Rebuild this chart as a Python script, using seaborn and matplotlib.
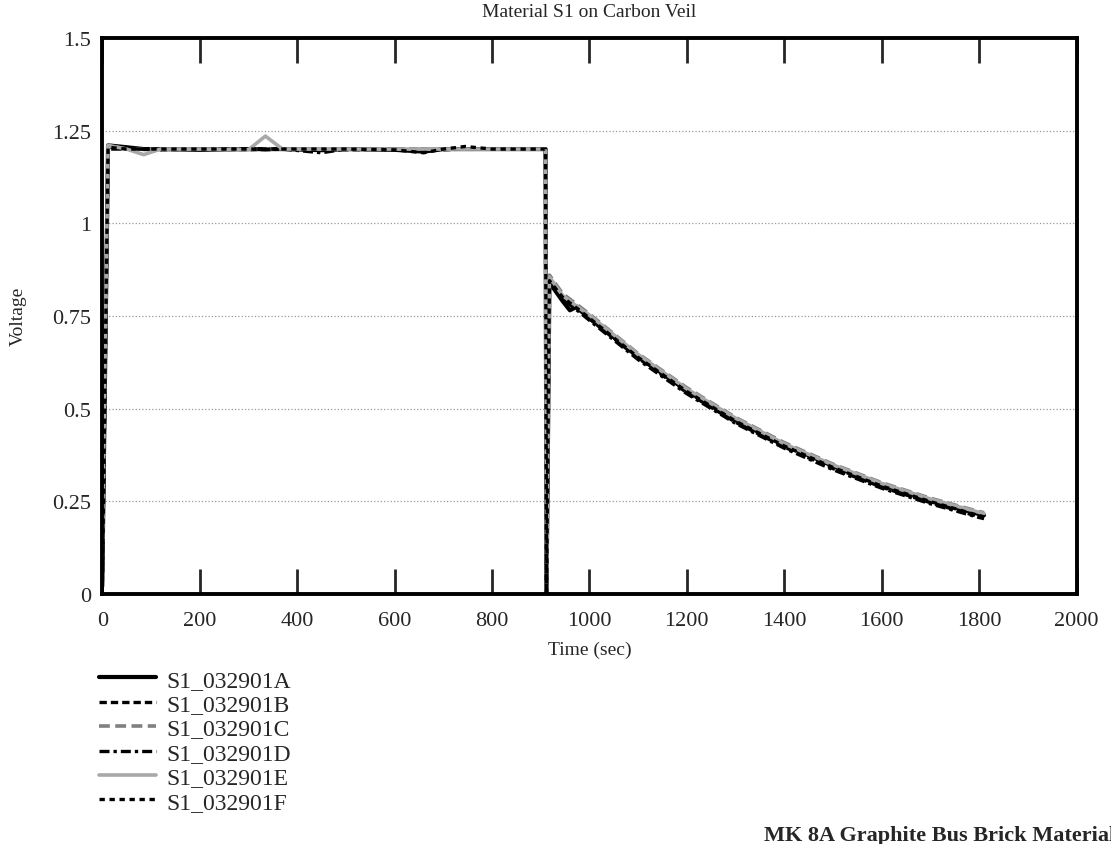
import matplotlib
matplotlib.use("Agg")
import matplotlib.pyplot as plt
import seaborn as sns
import pandas as pd

sns.set_style("white")
plt.rcParams["font.family"] = ["Liberation Serif", "DejaVu Serif"]

# time base (sec) shared by all runs
time_s = [0, 12, 50, 85, 120, 200, 300, 335, 370, 450, 500, 600, 660, 700, 745, 800,
          880, 910, 912, 918, 945, 960, 975, 1000, 1100, 1200, 1300, 1400, 1500,
          1600, 1700, 1800, 1810]

s1_a = [0.02, 1.21, 1.205, 1.20, 1.20, 1.198, 1.20, 1.20, 1.20, 1.197, 1.20, 1.198,
        1.193, 1.20, 1.20, 1.20, 1.20, 1.20, 0.0, 0.84, 0.79, 0.765, 0.775, 0.745,
        0.640, 0.548, 0.470, 0.402, 0.345, 0.295, 0.252, 0.215, 0.212]
s1_b = [0.00, 1.205, 1.20, 1.20, 1.198, 1.20, 1.198, 1.20, 1.20, 1.20, 1.198, 1.20,
        1.20, 1.198, 1.20, 1.20, 1.20, 1.20, 0.0, 0.85, 0.80, 0.785, 0.77, 0.742,
        0.636, 0.543, 0.463, 0.396, 0.338, 0.288, 0.246, 0.208, 0.205]
s1_c = [0.05, 1.21, 1.20, 1.20, 1.20, 1.20, 1.20, 1.20, 1.20, 1.20, 1.20, 1.20,
        1.20, 1.20, 1.20, 1.20, 1.20, 1.20, 0.0, 0.86, 0.81, 0.795, 0.78, 0.755,
        0.648, 0.556, 0.476, 0.408, 0.350, 0.300, 0.258, 0.222, 0.219]
s1_d = [0.00, 1.20, 1.20, 1.20, 1.20, 1.20, 1.20, 1.198, 1.20, 1.19, 1.20, 1.20,
        1.195, 1.20, 1.20, 1.20, 1.20, 1.20, 0.0, 0.84, 0.795, 0.78, 0.765, 0.738,
        0.632, 0.540, 0.460, 0.393, 0.335, 0.285, 0.243, 0.206, 0.203]
s1_e = [0.10, 1.21, 1.20, 1.185, 1.20, 1.20, 1.198, 1.235, 1.20, 1.20, 1.20, 1.20,
        1.20, 1.20, 1.20, 1.20, 1.20, 1.20, 0.0, 0.855, 0.805, 0.79, 0.775, 0.752,
        0.646, 0.553, 0.474, 0.405, 0.348, 0.298, 0.256, 0.220, 0.217]
s1_f = [0.00, 1.205, 1.20, 1.20, 1.20, 1.20, 1.20, 1.20, 1.20, 1.20, 1.20, 1.198,
        1.19, 1.20, 1.207, 1.20, 1.20, 1.20, 0.0, 0.845, 0.80, 0.785, 0.77, 0.744,
        0.638, 0.546, 0.466, 0.399, 0.341, 0.291, 0.249, 0.211, 0.208]

run_names = ["S1_032901A", "S1_032901B", "S1_032901C", "S1_032901D", "S1_032901E", "S1_032901F"]
run_values = [s1_a, s1_b, s1_c, s1_d, s1_e, s1_f]

y_ticks = [0, 0.25, 0.5, 0.75, 1, 1.25, 1.5]
y_tick_labels = ["0", "0.25", "0.5", "0.75", "1", "1.25", "1.5"]
x_ticks = [0, 200, 400, 600, 800, 1000, 1200, 1400, 1600, 1800, 2000]

styles = [
    dict(color="black", linestyle="-", lw=3.0),
    dict(color="black", linestyle=(0, (2.2, 1.2)), lw=2.4),
    dict(color="#808080", linestyle=(0, (3.0, 1.5)), lw=2.6),
    dict(color="black", linestyle=(0, (3.0, 1.2, 1.0, 1.2)), lw=2.4),
    dict(color="#a8a8a8", linestyle="-", lw=2.6),
    dict(color="black", linestyle=(0, (1.6, 1.4)), lw=2.4),
]

fig = plt.figure(figsize=(11.11, 8.45), dpi=100)
ax = fig.add_axes([0.092, 0.296, 0.877, 0.658])

for name, vals, st in zip(run_names, run_values, styles):
    df = pd.DataFrame({"t": time_s, "v": vals})
    sns.lineplot(data=df, x="t", y="v", ax=ax, label=name, sort=False,
                 estimator=None, **st)

ax.set_xlim(0, 2000)
ax.set_ylim(0, 1.5)
ax.set_xticks(x_ticks)
ax.set_yticks(y_ticks)
ax.set_yticklabels(y_tick_labels)
ax.yaxis.grid(True, linestyle=":", color="#999999", lw=0.9)
ax.xaxis.grid(False)

ax.tick_params(axis="x", direction="in", length=18, width=2.0, top=True, bottom=True,
               labelsize=16, pad=12)
ax.tick_params(axis="y", length=0, labelsize=16, pad=8)
for sp in ax.spines.values():
    sp.set_color("black")
    sp.set_linewidth(2.8)

ax.set_title("Material S1 on Carbon Veil", fontsize=14, pad=16)
ax.set_xlabel("Time (sec)", fontsize=14, labelpad=8)
ax.set_ylabel("Voltage", fontsize=14)
ax.yaxis.set_label_coords(-0.077, 0.5)

ax.legend(loc="upper left", bbox_to_anchor=(0.081, 0.218), bbox_transform=fig.transFigure,
          frameon=False, fontsize=17, handlelength=2.4, handletextpad=0.45,
          labelspacing=0.12, borderaxespad=0)

fig.text(0.688, 0.005, "MK 8A Graphite Bus Brick Material", fontsize=16,
         fontweight="bold", ha="left", va="baseline")

fig.savefig("out.png", dpi=100)
